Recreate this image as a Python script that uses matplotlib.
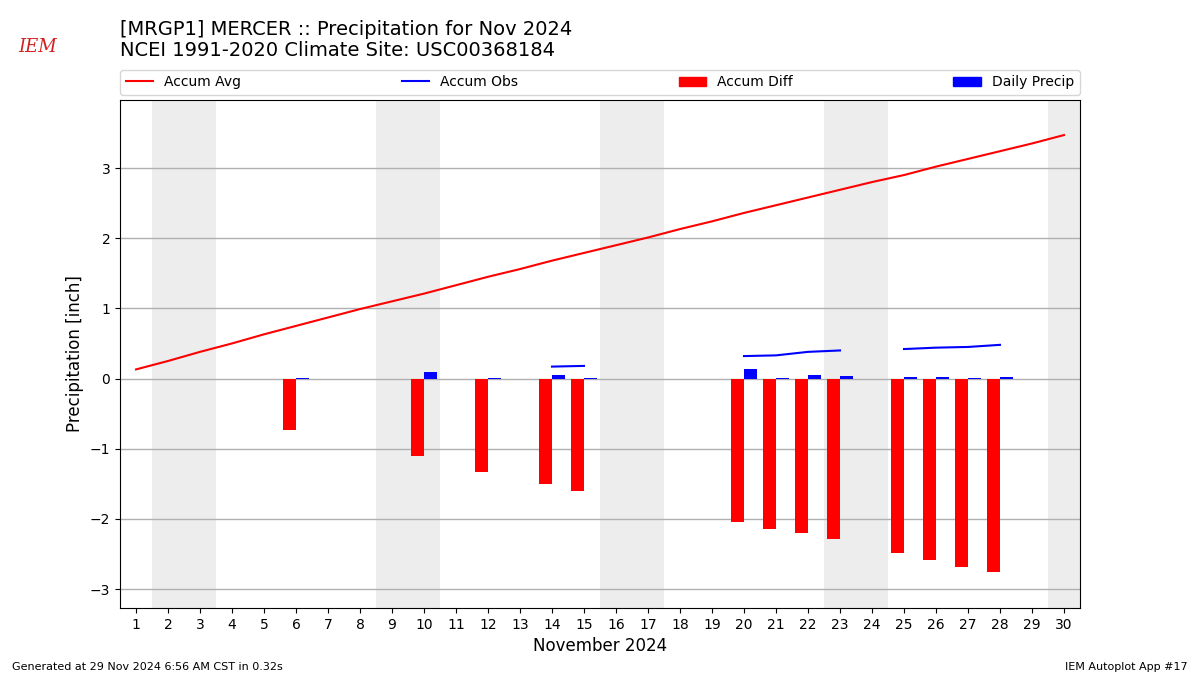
import datetime
import numpy as np
import matplotlib
matplotlib.use("Agg")
import matplotlib.pyplot as plt
from matplotlib.patches import Patch
from matplotlib.lines import Line2D

nan = np.nan

# Days of November 2024
days = list(range(1, 31))

# Climatological accumulated precipitation (inch)
accum_avg = [0.13, 0.25, 0.38, 0.50, 0.63, 0.75, 0.87, 0.99, 1.10, 1.21,
             1.33, 1.45, 1.56, 1.68, 1.79, 1.90, 2.01, 2.13, 2.24, 2.36,
             2.47, 2.58, 2.69, 2.80, 2.90, 3.02, 3.13, 3.24, 3.35, 3.47]

# Observed accumulated precipitation (missing days = nan)
accum_obs = [nan, nan, nan, nan, nan, 0.01, nan, nan, nan, 0.11,
             nan, 0.12, nan, 0.17, 0.18, nan, nan, nan, nan, 0.32,
             0.33, 0.38, 0.40, nan, 0.42, 0.44, 0.45, 0.48, nan, nan]

# Accumulated departure (inch)
accum_diff = [nan, nan, nan, nan, nan, -0.74, nan, nan, nan, -1.10,
              nan, -1.33, nan, -1.51, -1.61, nan, nan, nan, nan, -2.04,
              -2.14, -2.20, -2.28, nan, -2.48, -2.58, -2.68, -2.76, nan, nan]

# Daily precipitation (inch)
daily_precip = [nan, nan, nan, nan, nan, 0.01, nan, nan, nan, 0.10,
                nan, 0.01, nan, 0.05, 0.01, nan, nan, nan, nan, 0.14,
                0.01, 0.05, 0.03, nan, 0.02, 0.02, 0.01, 0.02, nan, nan]

fig = plt.figure(figsize=(12, 6.75), dpi=100)
ax = fig.add_axes([0.1, 0.0993, 0.8, 0.7526])

# shade the weekends
for d in days:
    if datetime.date(2024, 11, d).weekday() >= 5:
        ax.axvspan(d - 0.5, d + 0.5, color="#ededed", lw=0, zorder=0)

ax.plot(days, accum_avg, color="r", lw=1.5, zorder=3)
ax.plot(days, accum_obs, color="b", lw=1.5, zorder=3)
ax.bar(days, accum_diff, width=-0.4, align="edge", color="r", zorder=2)
ax.bar(days, daily_precip, width=0.4, align="edge", color="b", zorder=2)

ax.set_xlim(0.5, 30.5)
ax.set_ylim(-3.27, 3.97)
ax.set_xticks(days)
ax.set_yticks([-3, -2, -1, 0, 1, 2, 3])
ax.set_yticklabels(["\u22123", "\u22122", "\u22121", "0", "1", "2", "3"])
ax.yaxis.grid(True, color="#b0b0b0", lw=1, zorder=1)
ax.set_axisbelow(True)
ax.set_xlabel("November 2024", fontsize=12)
ax.set_ylabel("Precipitation [inch]", fontsize=12)

handles = [Line2D([], [], color="r", lw=1.5),
           Line2D([], [], color="b", lw=1.5),
           Patch(color="r"), Patch(color="b")]
labels = ["Accum Avg", "Accum Obs", "Accum Diff", "Daily Precip"]
ax.legend(handles, labels, ncol=4, mode="expand", loc="lower left",
          bbox_to_anchor=(0, 1.01, 1, 0.05), borderaxespad=0, fontsize=10)

fig.text(0.1, 0.957, "[MRGP1] MERCER :: Precipitation for Nov 2024",
         fontsize=14, va="center")
fig.text(0.1, 0.925, "NCEI 1991-2020 Climate Site: USC00368184",
         fontsize=14, va="center")

# stand-in for the IEM logo
fig.text(0.031, 0.93, "IEM", color="#d42020", fontsize=13,
         family="DejaVu Serif", style="italic", va="center", ha="center")

fig.text(0.01, 0.007, "Generated at 29 Nov 2024 6:56 AM CST in 0.32s",
         fontsize=8)
fig.text(0.99, 0.007, "IEM Autoplot App #17", fontsize=8, ha="right")

fig.savefig("out.png", dpi=100)
